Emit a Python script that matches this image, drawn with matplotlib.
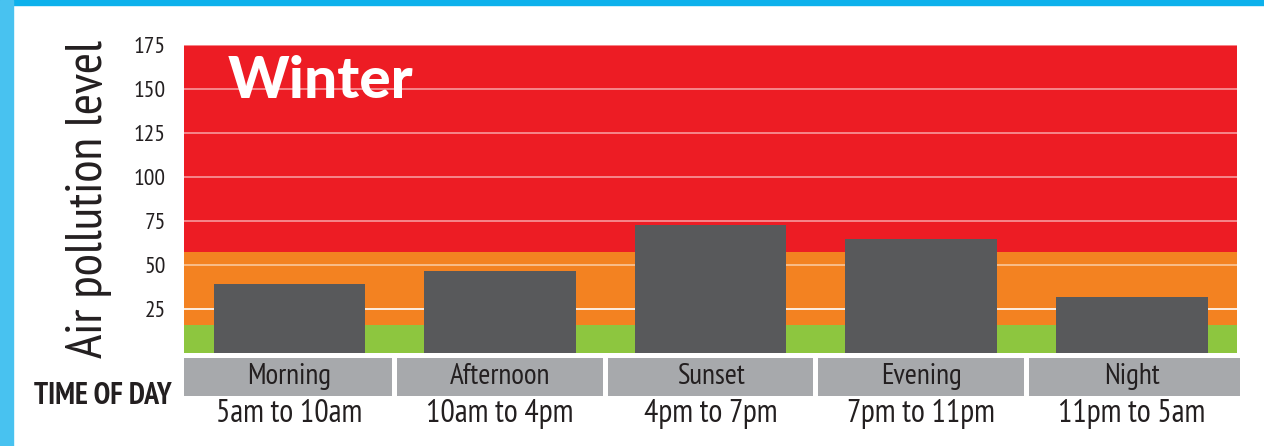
import matplotlib
matplotlib.use("Agg")
import matplotlib.pyplot as plt
import matplotlib.transforms as mtransforms
from matplotlib.patches import Rectangle

# data
periods = ["Morning", "Afternoon", "Sunset", "Evening", "Night"]
hours = ["5am to 10am", "10am to 4pm", "4pm to 7pm", "7pm to 11pm", "11pm to 5am"]
levels = [39, 46.5, 72.5, 64.5, 31.5]
yticks = [25, 50, 75, 100, 125, 150, 175]
# background bands: (lower, upper, colour)
band_edges = [0, 16, 57, 175]
band_colors = ["#8dc63f", "#f38221", "#ed1c24"]

narrow = ["PT Sans Narrow", "Archivo Narrow", "DejaVu Sans"]
dark = "#231f20"

fig = plt.figure(figsize=(12.64, 4.46), dpi=100)
ax = fig.add_axes([0.1456, 0.2092, 0.8331, 0.6899])

# blue frame on top and left
fig.add_artist(Rectangle((0, 0.989), 1, 0.011, transform=fig.transFigure, color="#0db1ec", zorder=0))
fig.add_artist(Rectangle((0, 0), 0.0101, 1, transform=fig.transFigure, color="#48c2f0", zorder=0))

for i in range(len(band_colors)):
    ax.axhspan(band_edges[i], band_edges[i + 1], color=band_colors[i], lw=0, zorder=0)

for t in yticks[1:]:
    ax.axhline(t, color="white", lw=1.2, alpha=0.55, zorder=1)
ax.axhline(yticks[0], color="white", lw=1.2, zorder=1)

x = list(range(len(periods)))
ax.bar(x, levels, width=0.72, color="#58595b", zorder=2)

ax.set_xlim(-0.5, len(periods) - 0.5)
ax.set_ylim(0, 175)
ax.set_yticks(yticks)
ax.set_yticklabels([str(t) for t in yticks], family=narrow, fontsize=17, color=dark)
ax.set_xticks([])
ax.tick_params(axis="y", length=0, pad=13)
for s in ax.spines.values():
    s.set_visible(False)

ax.set_ylabel("Air pollution level", family=narrow, fontsize=37,
              color=dark, labelpad=16)

# grey category boxes below the plot
tr = mtransforms.blended_transform_factory(ax.transData, ax.transAxes)
g = 0.012
for i, (p, h) in enumerate(zip(periods, hours)):
    x0 = i - 0.5 + (g if i > 0 else 0)
    x1 = i + 0.5 - g if i < len(periods) - 1 else i + 0.515
    ax.add_patch(Rectangle((x0, -0.141), x1 - x0, 0.124, transform=tr,
                           color="#a7a9ac", clip_on=False, lw=0))
    ax.text(i, -0.076, p, transform=tr, ha="center", va="center",
            family=narrow, fontsize=21, color=dark)
    ax.text(i, -0.2, h, transform=tr, ha="center", va="center",
            family=narrow, fontsize=23, color=dark)

fig.text(0.0815, 0.111, "TIME OF DAY", ha="center", va="center",
         family=narrow, fontsize=21.5, fontweight="bold", color=dark)

ax.text(0.041, 0.88, "Winter", transform=ax.transAxes, ha="left", va="center",
        family=["Lato", "DejaVu Sans"], fontweight="black", fontsize=42, color="white", zorder=3)

fig.savefig("out.png", dpi=100, facecolor="white")
